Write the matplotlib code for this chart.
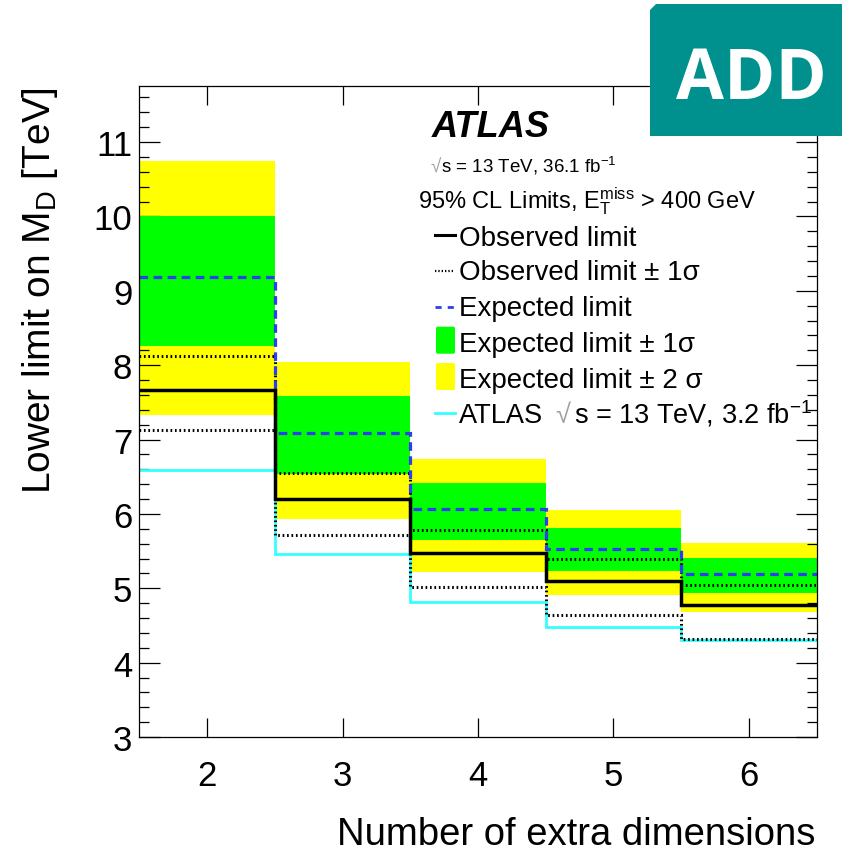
import numpy as np
import matplotlib
matplotlib.use("Agg")
import matplotlib.pyplot as plt
from matplotlib.patches import FancyBboxPatch, Polygon
from matplotlib.lines import Line2D
from matplotlib.ticker import MultipleLocator

plt.rcParams["font.family"] = ["Liberation Sans", "DejaVu Sans"]
plt.rcParams["mathtext.fontset"] = "custom"
plt.rcParams["mathtext.rm"] = "Liberation Sans"
plt.rcParams["mathtext.it"] = "Liberation Sans:italic"
plt.rcParams["mathtext.bf"] = "Liberation Sans:bold"

# Number of extra dimensions and 95% CL lower limits on M_D [TeV]
n_dim = [2, 3, 4, 5, 6]
obs = [7.67, 6.20, 5.48, 5.10, 4.78]
obs_up = [8.13, 6.55, 5.79, 5.39, 5.04]
obs_dn = [7.13, 5.72, 5.02, 4.64, 4.32]
exp = [9.19, 7.09, 6.07, 5.53, 5.19]
exp_1up = [10.00, 7.59, 6.42, 5.81, 5.41]
exp_1dn = [8.26, 6.53, 5.65, 5.23, 4.94]
exp_2up = [10.75, 8.04, 6.74, 6.05, 5.61]
exp_2dn = [7.33, 5.93, 5.22, 4.91, 4.68]
prev_32fb = [6.59, 5.46, 4.82, 4.48, 4.31]

W, H = 842, 853
fig = plt.figure(figsize=(W / 100, H / 100), dpi=100)


def fx(px):
    return px / W


def fy(py):
    return 1 - py / H


ax = fig.add_axes([fx(139.3), fy(738), fx(816.7) - fx(139.3), fy(87.3) - fy(738)])

n = np.asarray(n_dim, dtype=float)
edges = np.append(n - 0.5, n[-1] + 0.5)

YELLOW = "#ffff00"
GREEN = "#00ff00"
BLUE = "#2b3ff0"
CYAN = "#33ffff"

ax.stairs(exp_2up, edges, baseline=exp_2dn, fill=True, color=YELLOW, lw=0, zorder=1)
ax.stairs(exp_1up, edges, baseline=exp_1dn, fill=True, color=GREEN, lw=0, zorder=2)
ax.stairs(prev_32fb, edges, baseline=None, color=CYAN, lw=2.0, zorder=3)
dot_style = (0, (0.55, 0.9))
ax.stairs(obs_up, edges, baseline=None, color="black", lw=2.2, linestyle=dot_style, zorder=4)
ax.stairs(obs_dn, edges, baseline=None, color="black", lw=2.2, linestyle=dot_style, zorder=4)
dash_style = (0, (2.7, 1.7))
ax.stairs(exp, edges, baseline=None, color=BLUE, lw=2.3, linestyle=dash_style, zorder=5)
ax.stairs(obs, edges, baseline=None, color="black", lw=2.5, zorder=6)

ax.set_xlim(1.5, 6.5)
ax.set_ylim(3, 11.75)
ax.set_xticks(n_dim)
ax.set_xticklabels([str(v) for v in n_dim])
ax.yaxis.set_major_locator(MultipleLocator(1))
ax.yaxis.set_minor_locator(MultipleLocator(0.2))

for s in ax.spines.values():
    s.set_linewidth(0.9)
    s.set_zorder(10)

ax.tick_params(axis="both", which="both", direction="in", top=True, right=True,
               width=0.9, color="black")
ax.tick_params(axis="y", which="major", length=15, labelsize=25, pad=5)
ax.tick_params(axis="y", which="minor", length=7.5)
ax.tick_params(axis="x", which="major", length=14, labelsize=25, pad=16)

fig.text(fx(40), fy(87), "Lower limit on M$_{\\mathrm{D}}$ [TeV]", rotation=90,
         ha="center", va="top", fontsize=28)
fig.text(fx(815), fy(845), "Number of extra dimensions", ha="right", va="baseline",
         fontsize=27.5)

SQRT_GREY = "#a0a0a0"

# ATLAS label block
fig.text(fx(432), fy(136.7), "ATLAS", fontsize=26, fontweight="bold", fontstyle="italic",
         ha="left", va="baseline")
fig.text(fx(431), fy(172.7), "√", fontsize=13.5, color=SQRT_GREY, ha="left", va="baseline")
fig.text(fx(441), fy(172.7), "s = 13 TeV, 36.1 fb$^{\\mathrm{-1}}$", fontsize=13.5,
         ha="left", va="baseline")
fig.text(fx(418), fy(208.3),
         "95% CL Limits, E$_{\\mathrm{T}}^{\\mathrm{miss}}$ > 400 GeV", fontsize=17,
         ha="left", va="baseline")

# Legend
leg_x0, leg_x1, text_x = 435, 455, 459
rows = [245.7, 280.5, 316.0, 351.7, 388.0, 423.3]
labels = ["Observed limit", "Observed limit ± 1σ", "Expected limit",
          "Expected limit ± 1σ", "Expected limit ± 2 σ"]
for yb, lab in zip(rows[:5], labels):
    fig.text(fx(text_x), fy(yb), lab, fontsize=20, ha="left", va="baseline")
fig.text(fx(text_x), fy(rows[5]), "ATLAS", fontsize=19.5, ha="left", va="baseline")
fig.text(fx(555), fy(rows[5]), "√", fontsize=19.5, color=SQRT_GREY, ha="left", va="baseline")
fig.text(fx(574), fy(rows[5]), "s = 13 TeV, 3.2 fb$^{\\mathrm{-1}}$", fontsize=19.5,
         ha="left", va="baseline")


def seg(yc, **kw):
    fig.add_artist(Line2D([fx(leg_x0), fx(leg_x1)], [fy(yc), fy(yc)], **kw))


seg(rows[0] - 9.5, color="black", lw=2.2)
seg(rows[1] - 8.5, color="black", lw=1.6, linestyle=(0, (0.6, 0.9)))
seg(rows[2] - 8.5, color=BLUE, lw=2.0, linestyle=(0, (2.2, 2.2)))
for yb, col in [(rows[3], GREEN), (rows[4], YELLOW)]:
    fig.add_artist(FancyBboxPatch((fx(436), fy(yb + 3)), fx(455) - fx(436), fy(yb - 24) - fy(yb + 3),
                                  boxstyle="round,pad=0,rounding_size=0.002",
                                  transform=fig.transFigure, facecolor=col, edgecolor="none"))
seg(rows[5] - 9.5, color=CYAN, lw=2.0)

# ADD badge in the corner, top-left corner cut
bx0, bx1, by0, by1, cut = 650, 842, 137, 5, 6
badge = Polygon([(fx(bx0), fy(by0)), (fx(bx1), fy(by0)), (fx(bx1), fy(by1)),
                 (fx(bx0 + cut), fy(by1)), (fx(bx0), fy(by1 + cut))],
                closed=True, transform=fig.transFigure, facecolor="#00918f",
                edgecolor="none", zorder=20)
fig.add_artist(badge)
fig.text(fx(751), fy(99), "ADD", fontsize=50, fontweight="bold", color="white",
         family=["Open Sans", "DejaVu Sans"], ha="center", va="baseline", zorder=21)

fig.savefig("out.png", dpi=100)
